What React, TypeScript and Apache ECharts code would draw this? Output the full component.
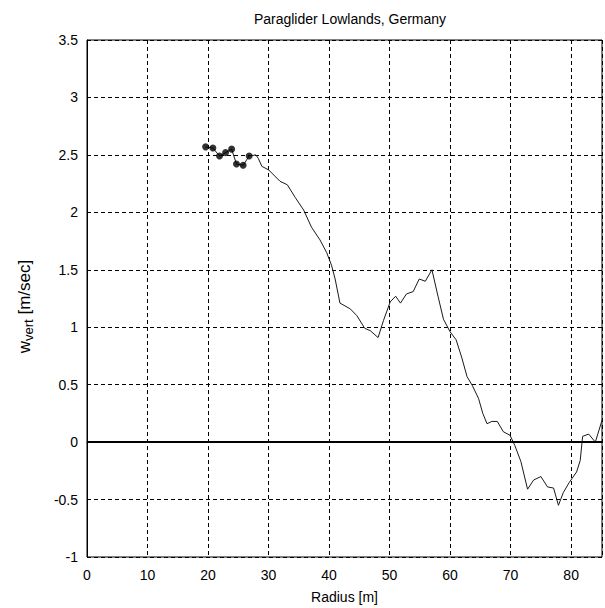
import React, { useEffect, useRef } from "react";
import * as echarts from "echarts";

// Radius from thermal centre [m]
const radius = [
  19.6, 20.8, 21.9, 22.9, 23.9, 24.7, 25.8, 26.8,
  27.9, 28.3, 28.9, 30.0, 31.9, 33.1, 34.4, 35.8, 37.1, 38.5, 39.6, 40.4,
  41.0, 41.8, 43.5, 44.6, 45.9, 46.8, 48.1, 49.0, 50.1, 51.0, 51.8, 52.8,
  53.9, 54.9, 55.9, 57.0, 58.0, 58.9, 60.0, 61.0, 61.9, 62.8, 63.7, 64.7,
  65.4, 66.1, 66.9, 67.8, 68.8, 69.9, 70.7, 71.7, 72.8, 73.8, 75.0, 76.1,
  77.1, 77.9, 78.7, 79.7, 80.9, 81.5, 81.9, 82.9, 84.0, 85.1,
];

// Vertical wind speed [m/sec]
const wVert = [
  2.57, 2.56, 2.49, 2.52, 2.55, 2.42, 2.41, 2.49,
  2.50, 2.47, 2.40, 2.37, 2.27, 2.24, 2.13, 2.02, 1.87, 1.76, 1.65, 1.54,
  1.42, 1.21, 1.16, 1.10, 0.99, 0.97, 0.91, 1.06, 1.22, 1.27, 1.21, 1.29,
  1.31, 1.42, 1.40, 1.50, 1.27, 1.07, 0.96, 0.89, 0.74, 0.57, 0.49, 0.38,
  0.25, 0.16, 0.18, 0.18, 0.09, 0.06, -0.03, -0.17, -0.41, -0.33, -0.30, -0.39,
  -0.40, -0.55, -0.44, -0.35, -0.26, -0.16, 0.05, 0.07, 0.00, 0.19,
];

// Leading samples drawn with dot markers
const markedCount = 8;

const xTicks = [0, 10, 20, 30, 40, 50, 60, 70, 80];
const xMin = 0;
const xMax = 85.1;
const yMin = -1;
const yMax = 3.5;
const yStep = 0.5;

const FONT = "'Liberation Sans', Arial, Helvetica, sans-serif";

export default function App() {
  const ref = useRef<HTMLDivElement>(null);

  useEffect(() => {
    if (!ref.current) return;
    const chart = echarts.init(ref.current, undefined, { renderer: "svg" });

    const points = radius.map((r, i) => [r, wVert[i]]);
    const marked = points.slice(0, markedCount);

    chart.setOption({
      animation: false,
      backgroundColor: "#ffffff",
      textStyle: { fontFamily: FONT },
      title: {
        text: "Paraglider Lowlands, Germany",
        left: 345,
        top: 7,
        textAlign: "center",
        textStyle: {
          fontFamily: FONT,
          fontSize: 14,
          fontWeight: "normal",
          color: "#000",
        },
      },
      grid: {
        left: 87,
        right: 3,
        top: 40,
        bottom: 51,
        outerBoundsMode: "none",
        containLabel: false,
        show: true,
        borderColor: "#000",
        borderWidth: 1,
        backgroundColor: "transparent",
      },
      xAxis: {
        type: "value",
        min: xMin,
        max: xMax,
        interval: 10,
        name: "Radius [m]",
        nameLocation: "middle",
        nameGap: 33,
        nameTextStyle: { fontFamily: FONT, fontSize: 14, color: "#000" },
        axisLine: { show: true, lineStyle: { color: "#000", width: 1 } },
        axisTick: { show: false },
        axisLabel: {
          fontFamily: FONT,
          fontSize: 14,
          color: "#000",
          margin: 11,
          formatter: (v: number) => (xTicks.includes(v) ? String(v) : ""),
        },
        splitLine: {
          show: true,
          lineStyle: { color: "#000", width: 1, type: [4, 3] },
        },
      },
      yAxis: {
        type: "value",
        min: yMin,
        max: yMax,
        interval: yStep,
        name: "{w|w}{sub|vert}{w| [m/sec]}",
        nameLocation: "middle",
        nameGap: 52,
        nameTextStyle: {
          fontFamily: FONT,
          fontSize: 17,
          color: "#000",
          padding: [0, 16, 0, 0],
          rich: {
            w: { fontFamily: FONT, fontSize: 17, color: "#000", lineHeight: 22, verticalAlign: "middle" },
            sub: {
              fontFamily: FONT,
              fontSize: 13,
              color: "#000",
              lineHeight: 22,
              verticalAlign: "bottom",
              padding: [6, 0, 0, 0],
            },
          },
        },
        axisLine: { show: true, lineStyle: { color: "#000", width: 1 } },
        axisTick: { show: false },
        axisLabel: {
          fontFamily: FONT,
          fontSize: 14,
          color: "#000",
          margin: 9,
        },
        splitLine: {
          show: true,
          lineStyle: { color: "#000", width: 1, type: [4, 3] },
        },
      },
      series: [
        {
          type: "line",
          data: points,
          showSymbol: false,
          symbol: "none",
          lineStyle: { color: "#1a1a1a", width: 1 },
          z: 3,
          markLine: {
            silent: true,
            symbol: "none",
            label: { show: false },
            lineStyle: { color: "#000", width: 2, type: "solid" },
            data: [{ yAxis: 0 }],
          },
        },
        {
          type: "scatter",
          data: marked,
          symbol: "circle",
          symbolSize: 7,
          itemStyle: { color: "#000" },
          z: 4,
        },
      ],
    });

    return () => chart.dispose();
  }, []);

  return (
    <div
      ref={ref}
      style={{ position: "fixed", left: 0, top: 0, width: 605, height: 608, background: "#fff" }}
    />
  );
}
